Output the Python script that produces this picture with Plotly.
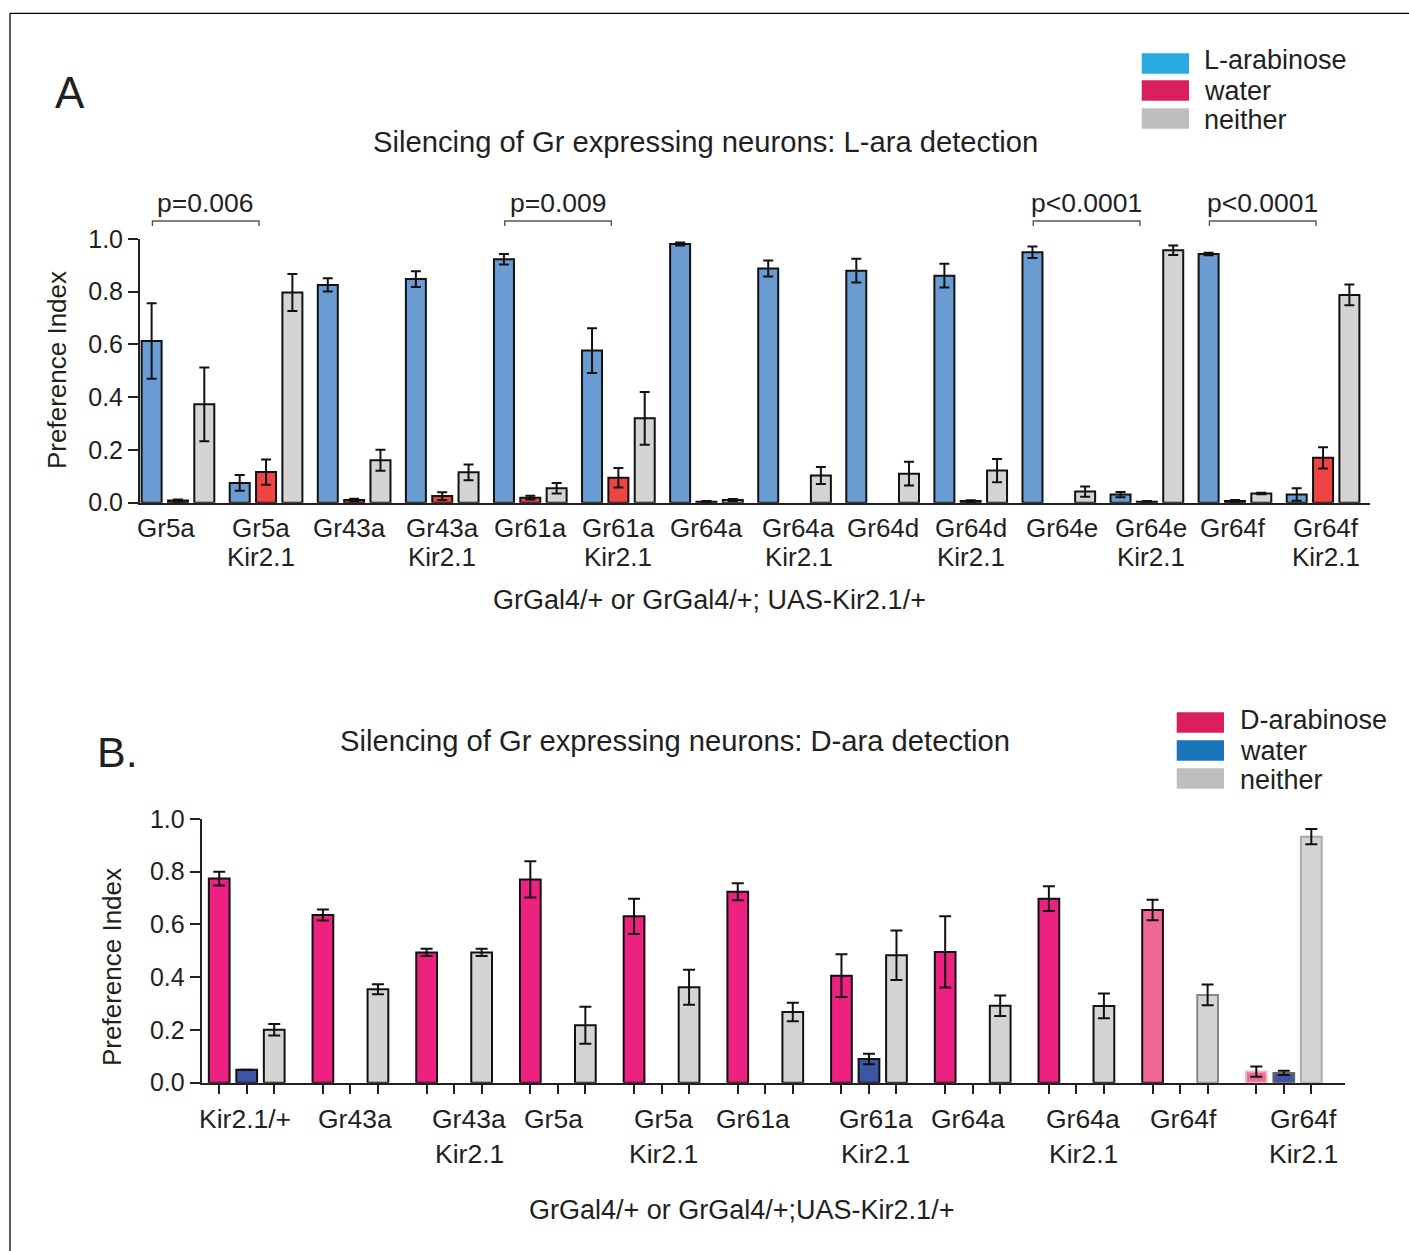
import plotly.graph_objects as go

W, H = 1409, 1251

# ---------------- Panel A data ----------------
catsA = ["Gr5a", "Gr5a<br>Kir2.1", "Gr43a", "Gr43a<br>Kir2.1", "Gr61a", "Gr61a<br>Kir2.1",
         "Gr64a", "Gr64a<br>Kir2.1", "Gr64d", "Gr64d<br>Kir2.1", "Gr64e", "Gr64e<br>Kir2.1",
         "Gr64f", "Gr64f<br>Kir2.1"]
lara = [0.613, 0.075, 0.826, 0.848, 0.923, 0.577, 0.981, 0.888, 0.880, 0.861, 0.950, 0.031, 0.943, 0.031]
lara_err = [0.143, 0.030, 0.025, 0.030, 0.020, 0.085, 0.006, 0.030, 0.045, 0.045, 0.022, 0.010, 0.005, 0.024]
waterA = [0.008, 0.116, 0.010, 0.025, 0.019, 0.095, 0.004, None, None, 0.006, None, 0.004, 0.006, 0.170]
waterA_err = [0.004, 0.048, 0.005, 0.015, 0.007, 0.037, 0.002, 0, 0, 0.003, 0, 0.002, 0.004, 0.040]
neitherA = [0.373, 0.797, 0.161, 0.115, 0.055, 0.320, 0.010, 0.103, 0.110, 0.122, 0.042, 0.957, 0.035, 0.788]
neitherA_err = [0.140, 0.070, 0.040, 0.030, 0.020, 0.100, 0.004, 0.032, 0.045, 0.044, 0.019, 0.018, 0.003, 0.039]
pval_text = ["p=0.006", "p=0.009", "p<0.0001", "p<0.0001"]
pval_first = ["Gr5a", "Gr61a", "Gr64e", "Gr64f"]
legendA = ["L-arabinose", "water", "neither"]

# ---------------- Panel B data ----------------
catsB = ["Kir2.1/+", "Gr43a", "Gr43a<br>Kir2.1", "Gr5a", "Gr5a<br>Kir2.1", "Gr61a",
         "Gr61a<br>Kir2.1", "Gr64a", "Gr64a<br>Kir2.1", "Gr64f", "Gr64f<br>Kir2.1"]
dara = [0.774, 0.636, 0.494, 0.771, 0.631, 0.724, 0.406, 0.496, 0.698, 0.655, 0.042]
dara_err = [0.026, 0.021, 0.014, 0.069, 0.067, 0.032, 0.081, 0.135, 0.047, 0.039, 0.019]
waterB = [0.049, None, None, None, None, None, 0.090, None, None, None, 0.037]
waterB_err = [0, 0, 0, 0, 0, 0, 0.020, 0, 0, 0, 0.008]
neitherB = [0.201, 0.354, 0.494, 0.218, 0.362, 0.268, 0.483, 0.292, 0.291, 0.333, 0.933]
neitherB_err = [0.022, 0.019, 0.014, 0.070, 0.066, 0.035, 0.094, 0.039, 0.047, 0.039, 0.029]
legendB = ["D-arabinose", "water", "neither"]

# ---------------- styling (pixel nudges for category labels) ----------------
label_nudge_A = [-12, -5, -5, 0, 0, 0, 0, 4, 0, 0, 3, 4, -2, 3]
label_nudge_B = [-2, 5, 15, -4, 2, -12, 7, -5, 7, 3, 20]

FONT = "Liberation Sans, Arial, sans-serif"
INK = "#231F20"
EDGE = "#111111"


def px(x):
    return x / W


def py(y):
    return 1 - y / H


fig = go.Figure()

# ---- Panel A bars
slotA, widthA = 0.299, 0.227
unitA = 1230 / 13.964  # pixels per category on axis A
offsA = [-slotA - widthA / 2, -widthA / 2, slotA - widthA / 2]
colorsA = ["#6A9BD2", "#EF4444", "#D4D4D4"]
for vals, errs, col, off in zip([lara, waterA, neitherA], [lara_err, waterA_err, neitherA_err], colorsA, offsA):
    fig.add_trace(go.Bar(
        x=catsA, y=vals, offset=off, width=widthA, xaxis="x", yaxis="y",
        marker=dict(color=col, line=dict(color=EDGE, width=2)),
        error_y=dict(type="data", array=errs, color=EDGE, thickness=2, width=5),
        showlegend=False, hoverinfo="skip"))

# ---- Panel B bars
slotB, widthB = 0.2653, 0.2
unitB = 1143.3 / 11.024
offsB = [-slotB - widthB / 2, -widthB / 2, slotB - widthB / 2]
nB = len(catsB)
dara_fill = ["#ED2180"] * (nB - 2) + ["#F06792", "#F06B94"]
dara_edge = [EDGE] * (nB - 1) + ["#E6BFCB"]
water_edge = [EDGE] * (nB - 1) + ["#666666"]
neither_edge = [EDGE] * (nB - 2) + ["#888888", "#AAAAAA"]
seriesB = [
    (dara, dara_err, dara_fill, dara_edge),
    (waterB, waterB_err, "#3C55A5", water_edge),
    (neitherB, neitherB_err, "#D4D4D4", neither_edge),
]
for (vals, errs, fill, edge), off in zip(seriesB, offsB):
    fig.add_trace(go.Bar(
        x=catsB, y=vals, offset=off, width=widthB, xaxis="x2", yaxis="y2",
        marker=dict(color=fill, line=dict(color=edge, width=2)),
        error_y=dict(type="data", array=errs, color=EDGE, thickness=2, width=6),
        showlegend=False, hoverinfo="skip"))

# invisible trace to activate the tick-only overlay axis
fig.add_trace(go.Scatter(x=[0], y=[0], xaxis="x3", yaxis="y2", mode="markers",
                         marker=dict(opacity=0), showlegend=False, hoverinfo="skip"))

rangeA = [-0.431, 13.533]
rangeB = [-0.434, 10.59]
yticks = [0, 0.2, 0.4, 0.6, 0.8, 1.0]

common_y = dict(range=[0, 1], tickvals=yticks, tickformat=".1f", showline=True, linecolor=INK,
                linewidth=2, ticks="outside", ticklen=10, tickwidth=2, tickcolor=INK,
                tickfont=dict(size=25, color=INK, family=FONT), showgrid=False, zeroline=False,
                fixedrange=True)

fig.update_layout(
    width=W, height=H, margin=dict(l=0, r=0, t=0, b=0, pad=0, autoexpand=False),
    paper_bgcolor="white", plot_bgcolor="white", barmode="overlay",
    font=dict(family=FONT, color=INK, size=25),
    xaxis=dict(domain=[px(140), px(1370)], anchor="y", type="category",
               categoryorder="array", categoryarray=catsA, range=rangeA,
               showline=True, linecolor=INK, linewidth=2, ticks="", showticklabels=False,
               showgrid=False, zeroline=False),
    yaxis=dict(domain=[py(502.7), py(239)], anchor="x", **common_y),
    xaxis2=dict(domain=[px(201.7), px(1345)], anchor="y2", type="category",
                categoryorder="array", categoryarray=catsB, range=rangeB,
                showline=True, linecolor=INK, linewidth=2, ticks="", showticklabels=False,
                showgrid=False, zeroline=False),
    xaxis3=dict(overlaying="x2", anchor="y2", type="linear", range=rangeB,
                tickvals=[i + k * slotB for i in range(nB) for k in (-1, 0, 1)],
                ticks="outside", ticklen=10, tickwidth=2, tickcolor=INK,
                showticklabels=False, showline=False, showgrid=False, zeroline=False),
    yaxis2=dict(domain=[py(1082.7), py(819)], anchor="x2", **common_y),
)

ann = []


def txt(x, y, s, size, xanchor="center", angle=0, xref="paper", xshift=0):
    ann.append(dict(x=x, y=y, xref=xref, yref="paper", text=s, showarrow=False,
                    xanchor=xanchor, yanchor="middle", textangle=angle, xshift=xshift,
                    font=dict(size=size, color=INK, family=FONT)))


# category labels, one row per text line, placed through each x axis
for cat, nud in zip(catsA, label_nudge_A):
    for row, line in enumerate(cat.split("<br>")):
        txt(cat, py([528, 557][row]), line, 26, xref="x", xshift=nud)
for cat, nud in zip(catsB, label_nudge_B):
    for row, line in enumerate(cat.split("<br>")):
        txt(cat, py([1119, 1154][row]), line, 26.5, xref="x2", xshift=nud)

txt(px(70), py(93), "A", 44)
txt(px(117), py(752), "B.", 43)
txt(px(705), py(142), "Silencing of Gr expressing neurons: L-ara detection", 29.2)
txt(px(675), py(741), "Silencing of Gr expressing neurons: D-ara detection", 29.2)
txt(px(710), py(600), "GrGal4/+ or GrGal4/+; UAS-Kir2.1/+", 27)
txt(px(741), py(1210), "GrGal4/+ or GrGal4/+;UAS-Kir2.1/+", 27)
txt(px(57), py(370), "Preference Index", 26, angle=-90)
txt(px(112), py(967), "Preference Index", 26, angle=-90)

shapes = []
# p-value brackets
for label, first in zip(pval_text, pval_first):
    i = catsA.index(first)
    x0, x1 = i - 0.29, i + 0.92
    y_bar, y_end = py(221), py(226)
    shapes.append(dict(type="path", xref="x", yref="paper",
                       path=f"M {x0},{y_end} L {x0},{y_bar} L {x1},{y_bar} L {x1},{y_end}",
                       line=dict(color="#555555", width=1.4)))
    txt((x0 + x1) / 2, py(203), label, 26.5, xref="x")

# legends
legA_cols = ["#29ABE2", "#DA1F5C", "#BCBEC0"]
for k, (lab, col) in enumerate(zip(legendA, legA_cols)):
    top = [53.3, 80.3, 108.3][k]
    shapes.append(dict(type="rect", xref="paper", yref="paper", x0=px(1141.7), x1=px(1189),
                       y0=py(top), y1=py(top + 20.5), fillcolor=col, line=dict(width=0)))
    txt(px(1202), py([60, 91.5, 120.5][k]), lab, 27, xanchor="left")

legB_cols = ["#DA1F5C", "#1B75BB", "#BCBEC0"]
for k, (lab, col) in enumerate(zip(legendB, legB_cols)):
    top = [712.3, 740.3, 768.3][k]
    shapes.append(dict(type="rect", xref="paper", yref="paper", x0=px(1176.7), x1=px(1224),
                       y0=py(top), y1=py(top + 20.5), fillcolor=col, line=dict(width=0)))
    txt(px(1238), py([719.5, 751, 779.5][k]), lab, 27, xanchor="left")

# outer frame (top and left edges visible)
shapes.append(dict(type="line", xref="paper", yref="paper", x0=px(10), x1=1.0, y0=py(13.3), y1=py(13.3),
                   line=dict(color="#000000", width=1.3)))
shapes.append(dict(type="line", xref="paper", yref="paper", x0=px(10), x1=px(10), y0=py(13.3), y1=0.0,
                   line=dict(color="#000000", width=1.3)))

fig.update_layout(annotations=ann, shapes=shapes)

post = """
document.documentElement.style.margin='0';
document.body.style.margin='0';
document.body.style.overflow='hidden';
"""
fig.write_html("out.html", post_script=post, config={"displayModeBar": False})
